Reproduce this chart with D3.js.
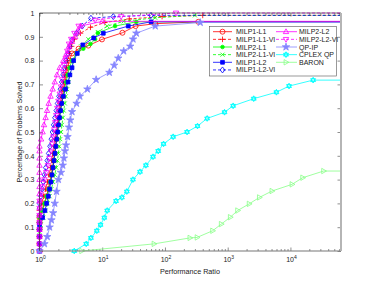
<!DOCTYPE html>
<html>
<head>
<meta charset="utf-8">
<script src="https://cdn.jsdelivr.net/npm/d3@7/dist/d3.min.js"></script>
<style>
  body { margin: 0; background: #fff; }
  svg { display: block; font-family: "Liberation Sans", Arial, sans-serif; }
</style>
</head>
<body>
<div id="chart"></div>
<script>
// performance profile data, [ratio, fraction solved]
const milp1L1 = [[1,0],[1,0.03],[1,0.06],[1,0.09],[1,0.12],[1,0.14],[1.1,0.17],[1.2,0.2],[1.3,0.23],[1.38,0.26],[1.46,0.29],[1.54,0.32],[1.62,0.35],[1.68,0.38],[1.74,0.41],[1.8,0.44],[1.86,0.47],[1.92,0.5],[1.98,0.53],[2.05,0.56],[2.13,0.59],[2.22,0.62],[2.32,0.65],[2.45,0.68],[2.56,0.71],[2.68,0.74],[2.82,0.77],[2.98,0.8],[3.3,0.83],[4.2,0.85],[6,0.863],[9.9,0.889],[21,0.917],[34,0.945],[70,0.955],[340,0.963]];
const milp1L1VI = [[1,0],[1,0.03],[1,0.06],[1,0.09],[1,0.12],[1,0.15],[1,0.17],[1.08,0.2],[1.16,0.23],[1.25,0.26],[1.33,0.29],[1.42,0.32],[1.5,0.35],[1.57,0.38],[1.64,0.41],[1.7,0.44],[1.77,0.47],[1.84,0.5],[1.9,0.53],[1.97,0.56],[2.04,0.59],[2.12,0.62],[2.2,0.65],[2.3,0.68],[2.42,0.71],[2.55,0.74],[2.68,0.77],[2.82,0.8],[3,0.83],[3.25,0.86],[3.6,0.89],[4.5,0.915],[6.5,0.94],[11,0.96],[27,0.975],[90,0.985],[400,0.99]];
const milp2L1 = [[1,0],[1,0.03],[1,0.06],[1,0.09],[1,0.12],[1,0.14],[1.1,0.17],[1.2,0.2],[1.3,0.23],[1.4,0.26],[1.48,0.29],[1.56,0.32],[1.63,0.35],[1.69,0.38],[1.75,0.41],[1.81,0.44],[1.88,0.47],[1.95,0.5],[2.02,0.53],[2.1,0.56],[2.18,0.59],[2.27,0.62],[2.37,0.65],[2.5,0.68],[2.65,0.71],[2.8,0.74],[3,0.77],[3.3,0.8],[3.9,0.83],[5,0.85],[6.5,0.87],[7.7,0.89],[8.5,0.916],[16,0.945],[35,0.963]];
const milp2L1VI = [[1,0],[1,0.03],[1,0.06],[1,0.08],[1.05,0.11],[1.15,0.14],[1.25,0.17],[1.35,0.2],[1.45,0.23],[1.55,0.26],[1.65,0.29],[1.75,0.32],[1.85,0.35],[1.93,0.38],[2,0.41],[2.07,0.44],[2.14,0.47],[2.21,0.5],[2.28,0.53],[2.36,0.56],[2.44,0.59],[2.53,0.62],[2.63,0.65],[2.76,0.68],[2.9,0.71],[3.05,0.74],[3.25,0.77],[3.5,0.8],[3.9,0.83],[4.6,0.86],[6,0.89],[8.5,0.92],[12,0.945],[22,0.965],[70,0.98],[300,0.99]];
const milp1L2 = [[1,0],[1,0.03],[1,0.06],[1,0.09],[1,0.11],[1.12,0.14],[1.22,0.17],[1.3,0.2],[1.38,0.23],[1.45,0.26],[1.52,0.29],[1.58,0.32],[1.64,0.35],[1.7,0.38],[1.76,0.41],[1.82,0.44],[1.88,0.47],[1.94,0.5],[2,0.53],[2.08,0.56],[2.16,0.59],[2.25,0.62],[2.4,0.65],[2.6,0.68],[2.85,0.71],[3.05,0.74],[3.3,0.77],[3.5,0.8],[4,0.83],[4.9,0.866],[7.3,0.895],[10.4,0.915],[26,0.945],[60,0.963]];
const milp1L2VI = [[1,0],[1,0.03],[1,0.06],[1,0.09],[1,0.12],[1,0.15],[1,0.18],[1,0.2],[1.05,0.23],[1.1,0.26],[1.15,0.29],[1.2,0.32],[1.26,0.35],[1.33,0.38],[1.4,0.41],[1.47,0.44],[1.54,0.47],[1.61,0.5],[1.68,0.53],[1.76,0.56],[1.85,0.59],[1.94,0.62],[2.04,0.65],[2.15,0.68],[2.26,0.71],[2.38,0.74],[2.5,0.77],[2.65,0.8],[2.85,0.83],[3.05,0.86],[3.3,0.887],[3.9,0.915],[4.8,0.945],[6.6,0.978],[15,0.985],[60,0.99]];
const milp2L2 = [[1,0],[1,0.03],[1,0.06],[1,0.09],[1,0.12],[1,0.15],[1,0.18],[1,0.21],[1,0.24],[1,0.27],[1,0.3],[1,0.33],[1,0.36],[1,0.39],[1,0.42],[1,0.44],[1.06,0.47],[1.12,0.5],[1.18,0.53],[1.25,0.56],[1.32,0.59],[1.4,0.62],[1.5,0.65],[1.62,0.68],[1.75,0.71],[1.9,0.74],[2.1,0.77],[2.4,0.8],[2.7,0.83],[2.95,0.86],[3.3,0.88],[3.7,0.9],[4.1,0.92],[4.5,0.945],[10,0.965]];
const milp2L2VI = [[1,0],[1,0.03],[1,0.06],[1,0.09],[1,0.12],[1,0.15],[1,0.18],[1,0.21],[1.05,0.24],[1.12,0.27],[1.2,0.3],[1.28,0.33],[1.36,0.36],[1.44,0.39],[1.52,0.42],[1.6,0.45],[1.66,0.48],[1.72,0.51],[1.78,0.54],[1.85,0.57],[1.92,0.6],[2,0.63],[2.1,0.66],[2.2,0.69],[2.3,0.72],[2.4,0.75],[2.5,0.78],[2.62,0.81],[2.77,0.84],[2.95,0.87],[3.2,0.89],[3.6,0.915],[4.2,0.945],[7.7,0.97],[20,0.985],[150,1]];
const qpIP = [[1,0],[1.2,0.03],[1.33,0.06],[1.45,0.1],[1.55,0.13],[1.65,0.16],[1.75,0.2],[1.87,0.25],[2,0.3],[2.2,0.33],[2.35,0.36],[2.45,0.39],[2.55,0.42],[2.65,0.445],[2.8,0.48],[2.95,0.52],[3.1,0.55],[3.3,0.585],[3.9,0.62],[4.4,0.65],[5.8,0.68],[8,0.72],[13,0.75],[15.5,0.78],[18,0.81],[22,0.84],[28,0.86],[31,0.89],[35,0.915],[70,0.945],[365,0.96]];
const cplexQP = [[3.58,0],[5.55,0.03],[6.6,0.055],[8.2,0.085],[9.4,0.11],[10.8,0.14],[12,0.17],[16.6,0.21],[20.6,0.225],[24.7,0.25],[30.9,0.3],[40,0.333],[49.7,0.36],[64.5,0.396],[78,0.42],[95,0.45],[135,0.48],[225,0.5],[330,0.525],[470,0.557],[890,0.583],[1220,0.61],[2600,0.64],[5980,0.667],[9500,0.693],[23000,0.718]];
const baron = [[4.7,0],[67,0.03],[250,0.055],[325,0.057],[575,0.085],[790,0.113],[1100,0.142],[1440,0.17],[2200,0.198],[3200,0.225],[5080,0.252],[10600,0.28],[15700,0.308],[33800,0.336]];

const seriesNames = ['MILP1-L1', 'MILP1-L1-VI', 'MILP2-L1', 'MILP2-L1-VI', 'MILP1-L2', 'MILP1-L2-VI',
  'MILP2-L2', 'MILP2-L2-VI', 'QP-IP', 'CPLEX QP', 'BARON'];
const seriesData = [milp1L1, milp1L1VI, milp2L1, milp2L1VI, milp1L2, milp1L2VI, milp2L2, milp2L2VI, qpIP, cplexQP, baron];
const yTicks = [0, 0.1, 0.2, 0.3, 0.4, 0.5, 0.6, 0.7, 0.8, 0.9, 1];
const xDecades = [0, 1, 2, 3, 4];
const xMax = 64000;

// styles
const styles = [
  { color: '#ff0000', dash: null, marker: 'circle' },
  { color: '#ff0000', dash: '3,2', marker: 'plus' },
  { color: '#00ff00', dash: null, marker: 'dot' },
  { color: '#00ff00', dash: '3,2', marker: 'cross' },
  { color: '#0000ff', dash: null, marker: 'square' },
  { color: '#0000ff', dash: '3,2', marker: 'diamond' },
  { color: '#ff00ff', dash: null, marker: 'triUp' },
  { color: '#ff00ff', dash: '3,2', marker: 'triDown' },
  { color: '#8585ff', dash: null, marker: 'star' },
  { color: '#00ffff', dash: null, marker: 'hexagram' },
  { color: '#88ff88', dash: null, marker: 'triRight' },
];

const width = 369;
const height = 291;
const pLeft = 39.5, pRight = 341, pTop = 13, pBottom = 251;

const svg = d3.select('#chart').append('svg')
  .attr('width', width)
  .attr('height', height);

const x = d3.scaleLog().domain([1, xMax]).range([pLeft, pRight]);
const y = d3.scaleLinear().domain([0, 1]).range([pBottom, pTop]);

svg.append('defs').append('clipPath').attr('id', 'clip')
  .append('rect')
  .attr('x', pLeft - 4).attr('y', pTop - 3)
  .attr('width', pRight - pLeft + 4).attr('height', pBottom - pTop + 6);

const markerPaths = {
  circle: 'M2.5,0A2.5,2.5 0 1,1 -2.5,0A2.5,2.5 0 1,1 2.5,0Z',
  plus: 'M-2.8,0H2.8M0,-2.8V2.8',
  dot: 'M1.8,0A1.8,1.8 0 1,1 -1.8,0A1.8,1.8 0 1,1 1.8,0Z',
  cross: 'M-2,-2L2,2M-2,2L2,-2',
  square: 'M-1.9,-1.9H1.9V1.9H-1.9Z',
  diamond: 'M0,-3L2.3,0L0,3L-2.3,0Z',
  triUp: 'M0,-2.9L2.7,1.9L-2.7,1.9Z',
  triDown: 'M0,2.9L2.7,-1.9L-2.7,-1.9Z',
  star: d3.symbol(d3.symbolStar, 17)(),
  hexagram: 'M0,-2.9L2.5,1.45L-2.5,1.45Z M0,2.9L2.5,-1.45L-2.5,-1.45Z',
  triRight: 'M2.9,0L-1.9,-2.7L-1.9,2.7Z',
};
const filled = { dot: true, square: true, star: true, hexagram: true };

function addMarker(g, style) {
  g.append('path')
    .attr('d', markerPaths[style.marker])
    .attr('fill', filled[style.marker] ? style.color : 'none')
    .attr('stroke', style.color)
    .attr('stroke-width', 0.8);
}

// axes, ticks inside
const minor = [];
for (let e = 0; e <= 4; e++) {
  for (let m = 2; m <= 9; m++) {
    const v = m * Math.pow(10, e);
    if (v < xMax) minor.push(v);
  }
}
const majors = xDecades.map((e) => Math.pow(10, e));

const axisG = svg.append('g').attr('class', 'axes');
axisG.append('g').attr('transform', `translate(0,${pBottom})`)
  .call(d3.axisBottom(x).tickValues(majors).tickSizeInner(-3.5).tickSizeOuter(0).tickFormat(''));
axisG.append('g').attr('transform', `translate(0,${pBottom})`)
  .call(d3.axisBottom(x).tickValues(minor).tickSizeInner(-2).tickSizeOuter(0).tickFormat(''));
axisG.append('g').attr('transform', `translate(0,${pTop})`)
  .call(d3.axisTop(x).tickValues(majors).tickSizeInner(-3.5).tickSizeOuter(0).tickFormat(''));
axisG.append('g').attr('transform', `translate(0,${pTop})`)
  .call(d3.axisTop(x).tickValues(minor).tickSizeInner(-2).tickSizeOuter(0).tickFormat(''));
axisG.append('g').attr('transform', `translate(${pLeft},0)`)
  .call(d3.axisLeft(y).tickValues(yTicks).tickSizeInner(-3.5).tickSizeOuter(0).tickPadding(5)
    .tickFormat((d) => d3.format('~g')(d)));
axisG.append('g').attr('transform', `translate(${pRight},0)`)
  .call(d3.axisRight(y).tickValues(yTicks).tickSizeInner(-3.5).tickSizeOuter(0).tickFormat(''));
axisG.selectAll('.domain').remove();
axisG.selectAll('line').attr('stroke', '#444').attr('stroke-width', 0.6);
axisG.selectAll('text')
  .attr('font-size', 7)
  .attr('font-family', '"Liberation Sans", Arial, sans-serif')
  .attr('fill', '#222');

// x tick labels 10^n
const xl = svg.append('g').selectAll('text')
  .data(xDecades)
  .enter()
  .append('text')
  .attr('x', (d) => x(Math.pow(10, d)) + 1)
  .attr('y', 262)
  .attr('text-anchor', 'middle')
  .attr('font-size', 7)
  .attr('fill', '#222');
xl.append('tspan').text('10');
xl.append('tspan').attr('dy', -3.5).attr('font-size', 5).text((d) => d);

// lines and markers
const line = d3.line()
  .x((d) => x(d[0]))
  .y((d) => y(d[1]));

const plot = svg.append('g').attr('clip-path', 'url(#clip)');
seriesData.forEach((data, i) => {
  const st = styles[i];
  const last = data[data.length - 1];
  plot.append('path')
    .datum(data.concat([[xMax, last[1]]]))
    .attr('d', line)
    .attr('fill', 'none')
    .attr('stroke', st.color)
    .attr('stroke-width', 0.8)
    .attr('stroke-dasharray', st.dash);
  plot.append('g').selectAll('g')
    .data(data)
    .enter()
    .append('g')
    .attr('transform', (d) => `translate(${x(d[0])},${y(d[1])})`)
    .each(function () { addMarker(d3.select(this), st); });
});

// frame
svg.append('path')
  .attr('d', `M${pLeft},${pBottom}V${pTop}H${pRight}`)
  .attr('fill', 'none')
  .attr('stroke', '#333')
  .attr('stroke-width', 0.7);
svg.append('line')
  .attr('x1', pLeft).attr('x2', pRight)
  .attr('y1', pBottom).attr('y2', pBottom)
  .attr('stroke', '#777').attr('stroke-width', 1.2);
svg.append('line')
  .attr('x1', pRight).attr('x2', pRight)
  .attr('y1', pTop).attr('y2', pBottom)
  .attr('stroke', '#b5b5b5').attr('stroke-width', 2);

// axis titles
svg.append('text')
  .attr('x', 190)
  .attr('y', 274)
  .attr('text-anchor', 'middle')
  .attr('font-size', 7.2)
  .attr('fill', '#222')
  .text('Performance Ratio');
svg.append('text')
  .attr('transform', 'translate(22,132) rotate(-90)')
  .attr('text-anchor', 'middle')
  .attr('font-size', 7.2)
  .attr('fill', '#222')
  .text('Percentage of Problems Solved');

// legend
const legend = svg.append('g');
legend.append('rect')
  .attr('x', 209.5).attr('y', 26.5)
  .attr('width', 127).attr('height', 49.5)
  .attr('fill', '#fff')
  .attr('stroke', '#555')
  .attr('stroke-width', 0.6);
const cols = [
  { x1: 213, x2: 232, mx: 222.5, tx: 236 },
  { x1: 276, x2: 297, mx: 286, tx: 299 },
];
seriesNames.forEach((name, i) => {
  const c = cols[i < 6 ? 0 : 1];
  const row = i < 6 ? i : i - 6;
  const yy = 31.7 + row * 7.65;
  const st = styles[i];
  const g = legend.append('g');
  g.append('line')
    .attr('x1', c.x1).attr('x2', c.x2)
    .attr('y1', yy).attr('y2', yy)
    .attr('stroke', st.color)
    .attr('stroke-width', 0.8)
    .attr('stroke-dasharray', st.dash);
  addMarker(g.append('g').attr('transform', `translate(${c.mx},${yy})`), st);
  g.append('text')
    .attr('x', c.tx)
    .attr('y', yy + 2.5)
    .attr('font-size', 7)
    .attr('fill', '#222')
    .text(name);
});
</script>
</body>
</html>
